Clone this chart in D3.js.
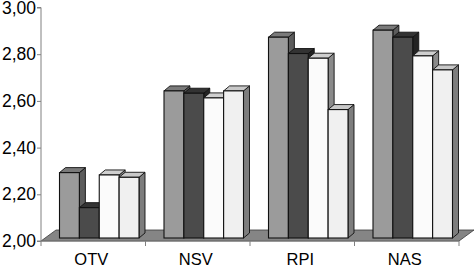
<!DOCTYPE html>
<html><head><meta charset="utf-8">
<script src="https://cdn.jsdelivr.net/npm/d3@7"></script>
<style>html,body{margin:0;padding:0;background:#fff;}svg{display:block;}</style>
</head><body>
<svg id="c" width="475" height="267"></svg>
<script>
const categories = ["OTV", "NSV", "RPI", "NAS"];
const seriesNames = ["S1", "S2", "S3", "S4"];
const s1 = [2.28, 2.63, 2.86, 2.89];
const s2 = [2.13, 2.62, 2.79, 2.86];
const s3 = [2.27, 2.60, 2.77, 2.78];
const s4 = [2.26, 2.63, 2.55, 2.72];
const yTicks = [2.0, 2.2, 2.4, 2.6, 2.8, 3.0];
const seriesValues = [s1, s2, s3, s4];

const fills = [
  {front: "#9b9b9b", top: "#7a7a7a", side: "#5c5c5c"},
  {front: "#4b4b4b", top: "#333333", side: "#232323"},
  {front: "#fbfbfb", top: "#cfcfcf", side: "#8a8a8a"},
  {front: "#f0f0f0", top: "#c8c8c8", side: "#7d7d7d"}
];

const svg = d3.select("#c");
const x = d3.scaleBand().domain(categories).range([41, 459]).padding(0);
const inner = d3.scaleBand().domain(seriesNames).range([14.5, 94]).padding(0);
const y = d3.scaleLinear().domain([2, 3]).range([241, 7.5]);

const FDX = 15, FDY = -11;   // floor depth
const BOX = 4, BOY = -3;     // bar placement in depth
const BDX = 6, BDY = -5;     // bar depth

// floor
const x0 = x.range()[0], x1 = x.range()[1], yb = y(2);
svg.append("path")
  .attr("d", `M${x0},${yb}L${x1},${yb}L${x1+FDX},${yb+FDY}L${x0+FDX},${yb+FDY}Z`)
  .attr("fill", "#858585").attr("stroke", "#3a3a3a").attr("stroke-width", 0.8);

// bars
const g = svg.append("g");
categories.forEach((c, ci) => {
  seriesNames.forEach((s, si) => {
    const v = seriesValues[si][ci];
    const bx = x(c) + inner(s) + BOX;
    const bw = inner.bandwidth();
    const by0 = y(2) + BOY;
    const by1 = y(v) + BOY - (y(2) - y(2));
    const top = by1 - (y(2) - by0) * 0; 
    const f = fills[si];
    // side
    g.append("path")
      .attr("d", `M${bx+bw},${by1}L${bx+bw+BDX},${by1+BDY}L${bx+bw+BDX},${by0+BDY}L${bx+bw},${by0}Z`)
      .attr("fill", f.side).attr("stroke", "#111").attr("stroke-width", 0.9).attr("stroke-linejoin", "round");
    // top
    g.append("path")
      .attr("d", `M${bx},${by1}L${bx+BDX},${by1+BDY}L${bx+bw+BDX},${by1+BDY}L${bx+bw},${by1}Z`)
      .attr("fill", f.top).attr("stroke", "#111").attr("stroke-width", 0.9).attr("stroke-linejoin", "round");
    // front
    g.append("rect")
      .attr("x", bx).attr("y", by1).attr("width", bw).attr("height", by0 - by1)
      .attr("fill", f.front).attr("stroke", "#111").attr("stroke-width", 1.1);
  });
});

// y axis
const yAxis = d3.axisLeft(y).tickValues(yTicks).tickSize(4).tickPadding(1)
  .tickFormat(d => d3.format(".2f")(d).replace(".", ","));
const ya = svg.append("g").attr("transform", "translate(41,0)").call(yAxis);
ya.select(".domain").attr("stroke", "#808080").attr("d", `M-4,${y(3)}H0V${y(2)}H-4`);
ya.selectAll(".tick line").attr("stroke", "#808080");
ya.selectAll(".tick text").attr("font-family", "Liberation Sans, Arial, sans-serif")
  .attr("font-size", 17.5).attr("fill", "#000");

// x axis
const xAxis = d3.axisBottom(x).tickSize(0).tickPadding(0);
const xa = svg.append("g").attr("transform", `translate(0,${y(2)})`).call(xAxis);
xa.select(".domain").attr("stroke", "#808080").attr("d", `M${x0},0H${x1}`);
xa.selectAll(".tick text").attr("font-family", "Liberation Sans, Arial, sans-serif")
  .attr("font-size", 16.5).attr("fill", "#000").attr("dy", 0).attr("y", 24).attr("dx", -2);
// category boundary ticks
xa.selectAll(".sep").data(x.domain().map(d => x(d)).concat([x1]))
  .enter().append("line").attr("class", "sep")
  .attr("x1", d => d).attr("x2", d => d).attr("y1", 0).attr("y2", 5)
  .attr("stroke", "#808080");
</script>
</body></html>
